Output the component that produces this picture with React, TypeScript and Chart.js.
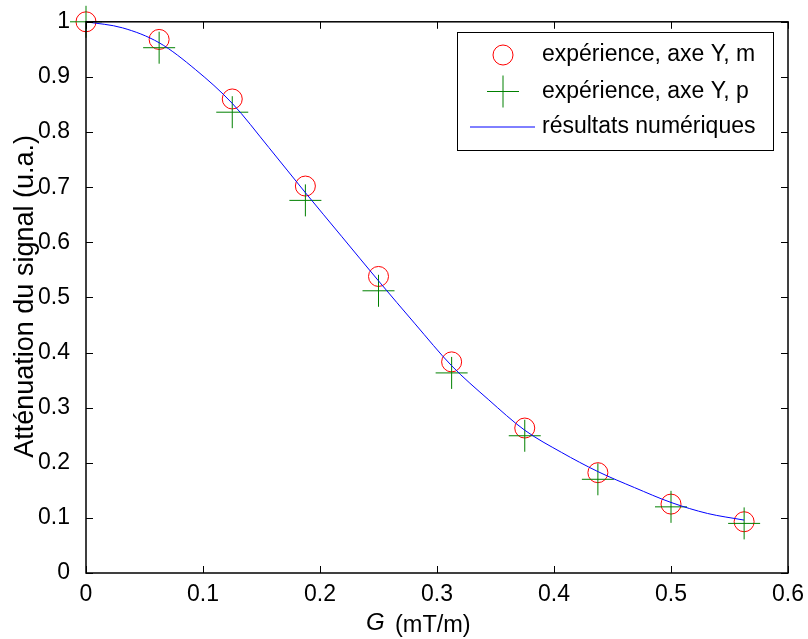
import { useEffect, useRef } from 'react';
import { Chart, registerables } from 'chart.js';
Chart.register(...registerables);

// ---- data ----
const xExp = [0, 0.0625, 0.125, 0.1875, 0.25, 0.3125, 0.375, 0.4375, 0.5, 0.5625];
const yExpM = [1.0, 0.968, 0.86, 0.702, 0.538, 0.383, 0.263, 0.182, 0.125, 0.093];
const yExpP = [1.0, 0.953, 0.836, 0.676, 0.512, 0.363, 0.249, 0.17, 0.12, 0.09];
const xNum = [0, 0.03125, 0.0625, 0.09375, 0.125, 0.15625, 0.1875, 0.21875, 0.25, 0.28125, 0.3125, 0.34375, 0.375, 0.40625, 0.4375, 0.46875, 0.5, 0.53125, 0.5625];
const yNum = [1.0, 0.989, 0.962, 0.913, 0.852, 0.772, 0.69, 0.61, 0.53, 0.452, 0.376, 0.315, 0.259, 0.219, 0.184, 0.155, 0.128, 0.108, 0.096];
const xTicks = [0, 0.1, 0.2, 0.3, 0.4, 0.5, 0.6];
const xTickLabels = ['0', '0.1', '0.2', '0.3', '0.4', '0.5', '0.6'];
const yTicks = [0, 0.1, 0.2, 0.3, 0.4, 0.5, 0.6, 0.7, 0.8, 0.9, 1];
const yTickLabels = ['0', '0.1', '0.2', '0.3', '0.4', '0.5', '0.6', '0.7', '0.8', '0.9', '1'];
const seriesNames = ['expérience, axe Y, m', 'expérience, axe Y, p', 'résultats numériques'];
const yTitle = 'Atténuation du signal (u.a.)';
const xTitleVar = 'G';
const xTitleUnit = '(mT/m)';

const FONT = '"Liberation Sans", Arial, Helvetica, sans-serif';
const RED = '#ff0000';
const GREEN = '#008000';
const BLUE = '#0000ff';

export default function App() {
  const ref = useRef<HTMLCanvasElement>(null);
  useEffect(() => {
    if (!ref.current) return;
    const matlabPlugin = {
      id: 'matlabDecor',
      afterDraw(chart: any) {
        const { ctx, chartArea: a, scales } = chart;
        const xs = scales.x;
        const ys = scales.y;
        ctx.save();
        ctx.strokeStyle = '#000';
        ctx.lineWidth = 1;
        const L = 7;
        ctx.beginPath();
        xTicks.forEach((v) => {
          const px = Math.round(xs.getPixelForValue(v)) + 0.5;
          ctx.moveTo(px, a.bottom);
          ctx.lineTo(px, a.bottom - L);
          ctx.moveTo(px, a.top);
          ctx.lineTo(px, a.top + L);
        });
        yTicks.forEach((v) => {
          const py = Math.round(ys.getPixelForValue(v)) + 0.5;
          ctx.moveTo(a.left, py);
          ctx.lineTo(a.left + L, py);
          ctx.moveTo(a.right, py);
          ctx.lineTo(a.right - L, py);
        });
        ctx.stroke();
        ctx.lineWidth = 1.5;
        ctx.strokeRect(a.left, a.top, a.right - a.left, a.bottom - a.top);

        // axis titles
        ctx.fillStyle = '#000';
        ctx.textBaseline = 'middle';
        ctx.textAlign = 'center';
        ctx.save();
        ctx.translate(26, (a.top + a.bottom) / 2 - 1);
        ctx.rotate(-Math.PI / 2);
        ctx.font = `27px ${FONT}`;
        ctx.fillText(yTitle, 0, 0);
        ctx.restore();

        ctx.textAlign = 'left';
        ctx.textBaseline = 'alphabetic';
        ctx.font = `italic 24px ${FONT}`;
        ctx.fillText(xTitleVar, 366, 630);
        ctx.font = `23.5px ${FONT}`;
        ctx.fillText(xTitleUnit, 395, 632);

        // legend
        const bx = 457, by = 32, bw = 316, bh = 118;
        ctx.fillStyle = '#fff';
        ctx.fillRect(bx, by, bw, bh);
        ctx.lineWidth = 1;
        ctx.strokeStyle = '#000';
        ctx.strokeRect(bx + 0.5, by + 0.5, bw, bh);
        const symX = 503;
        const rows = [55, 91.5, 127];
        ctx.strokeStyle = RED;
        ctx.beginPath();
        ctx.arc(symX, rows[0], 10, 0, Math.PI * 2);
        ctx.stroke();
        ctx.strokeStyle = GREEN;
        ctx.beginPath();
        ctx.moveTo(symX - 16, rows[1]);
        ctx.lineTo(symX + 16, rows[1]);
        ctx.moveTo(symX, rows[1] - 16);
        ctx.lineTo(symX, rows[1] + 16);
        ctx.stroke();
        ctx.strokeStyle = BLUE;
        ctx.beginPath();
        ctx.moveTo(470, rows[2]);
        ctx.lineTo(535, rows[2]);
        ctx.stroke();
        ctx.fillStyle = '#000';
        ctx.font = `23px ${FONT}`;
        ctx.textAlign = 'left';
        ctx.textBaseline = 'middle';
        seriesNames.forEach((n, i) => ctx.fillText(n, 542, rows[i]));
        ctx.restore();
      },
    };

    const chart = new Chart(ref.current, {
      type: 'scatter',
      data: {
        datasets: [
          {
            label: seriesNames[2],
            data: xNum.map((x, i) => ({ x, y: yNum[i] })),
            showLine: true,
            borderColor: BLUE,
            borderWidth: 1,
            pointRadius: 0,
            cubicInterpolationMode: 'monotone',
            fill: false,
            clip: false as any,
            order: 0,
          },
          {
            label: seriesNames[1],
            data: xExp.map((x, i) => ({ x, y: yExpP[i] })),
            pointStyle: 'cross',
            pointRadius: 16,
            borderColor: GREEN,
            backgroundColor: GREEN,
            pointBorderWidth: 1,
            borderWidth: 1,
            clip: false as any,
            order: 1,
          },
          {
            label: seriesNames[0],
            data: xExp.map((x, i) => ({ x, y: yExpM[i] })),
            pointStyle: 'circle',
            pointRadius: 10,
            borderColor: RED,
            backgroundColor: 'rgba(0,0,0,0)',
            pointBorderWidth: 1,
            borderWidth: 1,
            clip: false as any,
            order: 2,
          },
        ],
      },
      options: {
        animation: false,
        responsive: false,
        events: [],
        layout: { padding: { top: 20, right: 20, left: 0, bottom: 0 } },
        plugins: { legend: { display: false }, tooltip: { enabled: false } },
        scales: {
          x: {
            type: 'linear',
            min: 0,
            max: 0.6,
            grid: { display: false },
            border: { display: false },
            afterBuildTicks: (s: any) => { s.ticks = xTicks.map((v) => ({ value: v })); },
            afterFit: (s: any) => { s.height = 66; },
            ticks: {
              padding: 0,
              color: '#000',
              font: { family: FONT, size: 23 },
              maxRotation: 0,
              autoSkip: false,
              callback: (_v: any, i: number) => xTickLabels[i],
            },
          },
          y: {
            type: 'linear',
            min: 0,
            max: 1,
            grid: { display: false },
            border: { display: false },
            afterBuildTicks: (s: any) => { s.ticks = yTicks.map((v) => ({ value: v })); },
            afterFit: (s: any) => { s.width = 86; },
            ticks: {
              padding: 8,
              color: '#000',
              font: { family: FONT, size: 23 },
              autoSkip: false,
              callback: (_v: any, i: number) => yTickLabels[i],
            },
          },
        },
      },
      plugins: [matlabPlugin],
    });
    return () => chart.destroy();
  }, []);

  return (
    <div style={{ position: 'fixed', left: 0, top: 0, width: 808, height: 639, background: '#fff' }}>
      <canvas ref={ref} width={808} height={639} style={{ width: 808, height: 639, display: 'block' }} />
    </div>
  );
}
